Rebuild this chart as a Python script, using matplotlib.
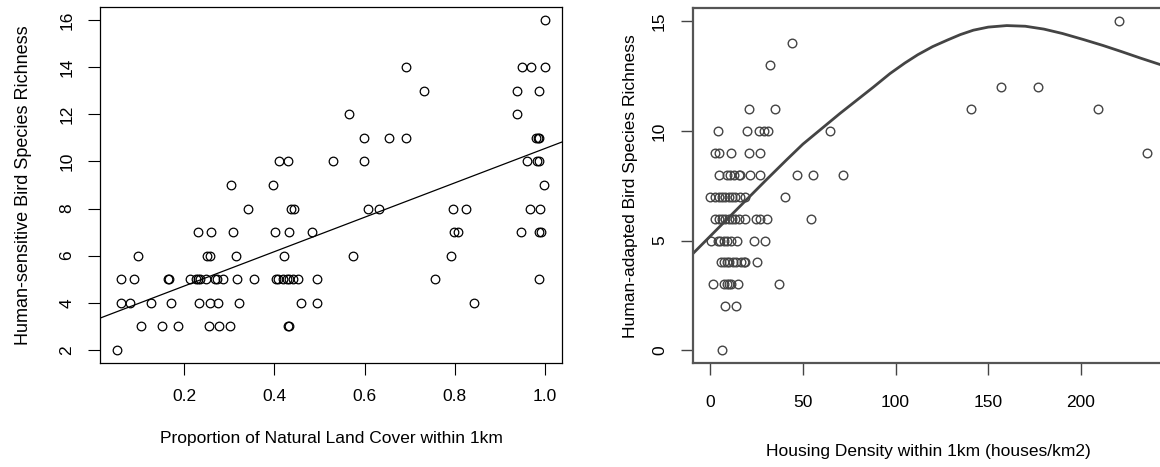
import matplotlib
matplotlib.use('Agg')
import matplotlib.pyplot as plt

plt.rcParams['font.family'] = ['Liberation Sans', 'DejaVu Sans']

# left panel: natural land cover vs human-sensitive richness
natural_cover = [0.051,
                 0.103, 0.151, 0.187, 0.255, 0.278, 0.302, 0.429, 0.433,
                 0.060, 0.080, 0.126, 0.171, 0.233, 0.256, 0.274, 0.321, 0.460, 0.494, 0.842,
                 0.060, 0.089, 0.163, 0.166, 0.213, 0.226, 0.230, 0.235, 0.249, 0.269, 0.272, 0.285,
                 0.318, 0.354, 0.403, 0.409, 0.418, 0.427, 0.433, 0.441, 0.452, 0.494, 0.757, 0.987,
                 0.097, 0.250, 0.258, 0.314, 0.422, 0.574, 0.791,
                 0.230, 0.260, 0.309, 0.402, 0.433, 0.483, 0.798, 0.807, 0.946, 0.987, 0.992,
                 0.341, 0.437, 0.444, 0.607, 0.631, 0.796, 0.825, 0.967, 0.990,
                 0.304, 0.396, 0.997,
                 0.411, 0.430, 0.529, 0.598, 0.960, 0.983, 0.987,
                 0.598, 0.655, 0.692, 0.980, 0.984, 0.988,
                 0.565, 0.938,
                 0.732, 0.939, 0.986,
                 0.692, 0.949, 0.970, 1.000,
                 1.000]
sensitive_rich = [2,
                  3, 3, 3, 3, 3, 3, 3, 3,
                  4, 4, 4, 4, 4, 4, 4, 4, 4, 4, 4,
                  5, 5, 5, 5, 5, 5, 5, 5, 5, 5, 5, 5,
                  5, 5, 5, 5, 5, 5, 5, 5, 5, 5, 5, 5,
                  6, 6, 6, 6, 6, 6, 6,
                  7, 7, 7, 7, 7, 7, 7, 7, 7, 7, 7,
                  8, 8, 8, 8, 8, 8, 8, 8, 8,
                  9, 9, 9,
                  10, 10, 10, 10, 10, 10, 10,
                  11, 11, 11, 11, 11, 11,
                  12, 12,
                  13, 13, 13,
                  14, 14, 14, 14,
                  16]
fit_intercept = 3.25
fit_slope = 7.3

# right panel: housing density vs human-adapted richness
housing = [6.5,
           8.1, 13.7,
           1.4, 7.2, 8.8, 10.0, 11.2, 15.0, 37.0,
           5.8, 7.6, 9.0, 10.4, 12.2, 14.0, 16.5, 18.0, 18.9, 25.5,
           0.3, 4.0, 5.5, 7.2, 9.0, 11.2, 14.5, 23.8, 29.5,
           2.7, 4.5, 6.3, 8.1, 9.9, 11.7, 13.5, 15.3, 18.5, 24.5, 27.0, 30.6, 54.2,
           0.0, 2.7, 4.5, 6.3, 8.1, 9.9, 11.7, 13.5, 16.2, 18.9, 40.6,
           4.8, 8.8, 10.8, 12.6, 15.6, 16.2, 21.3, 27.0, 46.8, 55.3, 71.6,
           2.7, 4.7, 11.0, 20.7, 27.0, 235.7,
           4.1, 20.1, 26.4, 29.1, 31.1, 64.4,
           20.7, 34.7, 140.7, 209.0,
           157.0, 176.8,
           32.5,
           44.3,
           220.4]
adapted_rich = [0,
                2, 2,
                3, 3, 3, 3, 3, 3, 3,
                4, 4, 4, 4, 4, 4, 4, 4, 4, 4,
                5, 5, 5, 5, 5, 5, 5, 5, 5,
                6, 6, 6, 6, 6, 6, 6, 6, 6, 6, 6, 6, 6,
                7, 7, 7, 7, 7, 7, 7, 7, 7, 7, 7,
                8, 8, 8, 8, 8, 8, 8, 8, 8, 8, 8,
                9, 9, 9, 9, 9, 9,
                10, 10, 10, 10, 10, 10,
                11, 11, 11, 11,
                12, 12,
                13,
                14,
                15]
# fitted curve
curve_x = [-9.4, 0, 10, 20, 30, 41.4, 50, 60, 70, 79, 88, 97, 105, 112, 120, 128,
           135, 142, 150, 160, 170, 180, 190, 201.5, 212, 222, 232, 245]
curve_y = [4.4, 5.2, 6.05, 6.9, 7.75, 8.7, 9.4, 10.1, 10.8, 11.4, 12.0, 12.62, 13.1, 13.48,
           13.85, 14.15, 14.4, 14.6, 14.74, 14.81, 14.78, 14.65, 14.45, 14.17, 13.9, 13.62,
           13.33, 12.97]


def r_limits(vals):
    lo, hi = min(vals), max(vals)
    pad = 0.04 * (hi - lo)
    return lo - pad, hi + pad


fig = plt.figure(figsize=(11.6, 4.67), dpi=100)

# ---- left
ax1 = fig.add_axes([0.0862, 0.2227, 0.3983, 0.7623])
ax1.plot(natural_cover, sensitive_rich, 'o', mfc='none', mec='black', ms=6.2, mew=0.9)
ax1.axline((0, fit_intercept), slope=fit_slope, color='black', lw=0.9)
ax1.set_xlim(r_limits(natural_cover))
ax1.set_ylim(r_limits(sensitive_rich))
ax1.set_xticks([0.2, 0.4, 0.6, 0.8, 1.0])
ax1.set_xticklabels(['0.2', '0.4', '0.6', '0.8', '1.0'])
ax1.set_yticks(range(2, 17, 2))
for lab in ax1.get_yticklabels():
    lab.set_rotation(90)
    lab.set_va('center')
ax1.tick_params(length=8.5, width=0.8, labelsize=12.5, pad=10)
ax1.set_xlabel('Proportion of Natural Land Cover within 1km', fontsize=12.5, labelpad=20)
ax1.set_ylabel('Human-sensitive Bird Species Richness', fontsize=13, labelpad=20)
for sp in ax1.spines.values():
    sp.set_linewidth(0.9)

# ---- right
grey = '#444444'
ax2 = fig.add_axes([0.5972, 0.2221, 0.4067, 0.7602])
ax2.plot(housing, adapted_rich, 'o', mfc='none', mec=grey, ms=6.2, mew=1.0)
ax2.plot(curve_x, curve_y, color=grey, lw=2.0)
ax2.set_xlim(r_limits(housing))
ax2.set_ylim(r_limits(adapted_rich))
ax2.set_xticks([0, 50, 100, 150, 200])
ax2.set_yticks([0, 5, 10, 15])
for lab in ax2.get_yticklabels():
    lab.set_rotation(90)
    lab.set_va('center')
ax2.tick_params(length=8.5, width=1.0, color=grey, labelsize=12.5, pad=10)
ax2.tick_params(axis='x', pad=14)
ax2.set_xlabel('Housing Density within 1km (houses/km2)', fontsize=12.5, labelpad=25)
ax2.set_ylabel('Human-adapted Bird Species Richness', fontsize=12.5, labelpad=10)
for sp in ax2.spines.values():
    sp.set_linewidth(1.6)
    sp.set_color('#555555')

fig.savefig('out.png', dpi=100)
